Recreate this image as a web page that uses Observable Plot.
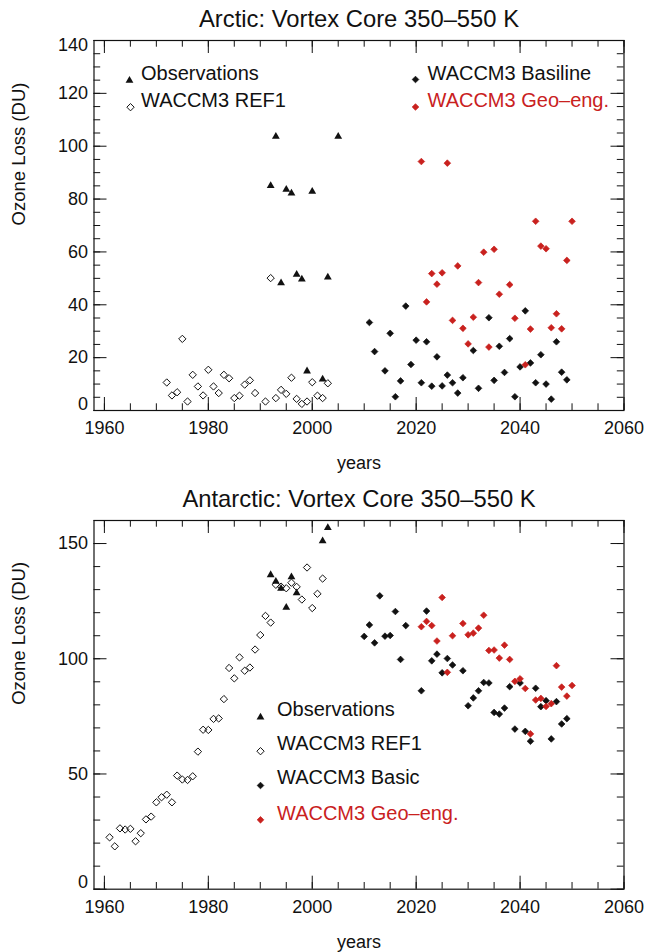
<!DOCTYPE html>
<html>
<head>
<meta charset="utf-8">
<script src="https://cdn.jsdelivr.net/npm/d3@7"></script>
<script src="https://cdn.jsdelivr.net/npm/@observablehq/plot@0.6"></script>
<style>
  body { margin: 0; background: #fff; }
  #chart svg { display: block; }
</style>
</head>
<body>
<div id="chart"></div>
<script>
// ---- Arctic vortex core ozone loss (DU) ----
const arcticObsYears = [1992, 1993, 1994, 1995, 1996, 1997, 1998, 1999, 2000, 2002, 2003, 2005];
const arcticObsLoss  = [85.0, 103.7, 48.2, 83.6, 82.2, 51.5, 49.7, 14.9, 82.9, 11.8, 50.4, 103.7];

const arcticRefYears = [1972, 1973, 1974, 1975, 1976, 1977, 1978, 1979, 1980, 1981, 1982, 1983, 1984, 1985, 1986, 1987,
                        1988, 1989, 1991, 1992, 1993, 1994, 1995, 1996, 1997, 1998, 1999, 2000, 2001, 2002, 2003];
const arcticRefLoss  = [10.6, 5.7, 6.9, 27.1, 3.4, 13.5, 9.1, 5.7, 15.4, 9.1, 6.6, 13.5, 12.2, 4.7, 5.6, 9.8,
                        11.4, 6.6, 3.4, 50.1, 4.7, 7.8, 6.3, 12.4, 4.4, 2.5, 3.4, 10.7, 5.6, 4.7, 10.3];

const arcticBaseYears = [2011, 2012, 2014, 2015, 2016, 2017, 2018, 2019, 2020, 2021, 2022, 2023, 2024, 2025, 2026, 2027, 2028, 2029,
                         2031, 2032, 2034, 2035, 2036, 2037, 2038, 2039, 2040, 2041, 2042, 2043, 2044, 2045, 2046, 2047, 2048, 2049];
const arcticBaseLoss  = [33.3, 22.3, 15.0, 29.2, 5.2, 11.2, 39.5, 17.4, 26.6, 10.5, 26.0, 9.2, 20.3, 9.3, 13.4, 10.5, 6.6, 12.4,
                         22.7, 8.4, 35.1, 11.4, 24.3, 14.4, 27.2, 5.2, 16.5, 37.7, 18.0, 10.5, 21.1, 10.0, 4.3, 26.0, 14.5, 11.6];

const arcticGeoYears = [2021, 2022, 2023, 2024, 2025, 2026, 2027, 2028, 2029, 2030, 2031, 2032, 2033, 2034, 2035, 2036, 2038, 2039,
                        2041, 2042, 2043, 2044, 2045, 2046, 2047, 2048, 2049, 2050];
const arcticGeoLoss  = [94.2, 41.1, 51.8, 47.8, 52.1, 93.6, 34.1, 54.7, 31.1, 25.2, 35.3, 48.4, 59.9, 24.0, 61.0, 44.0, 47.6, 34.9,
                        17.3, 30.8, 71.6, 62.2, 61.2, 31.3, 36.6, 30.9, 56.8, 71.6];

// ---- Antarctic vortex core ozone loss (DU) ----
const antarcticObsYears = [1992, 1993, 1994, 1995, 1996, 1997, 2002, 2003];
const antarcticObsLoss  = [136.4, 133.5, 130.5, 122.2, 135.5, 128.5, 151.1, 156.9];

const antarcticRefYears = [1961, 1962, 1963, 1964, 1965, 1966, 1967, 1968, 1969, 1970, 1971, 1972, 1973, 1974, 1975, 1976,
                           1977, 1978, 1979, 1980, 1981, 1982, 1983, 1984, 1985, 1986, 1987, 1988, 1989, 1990, 1991, 1992,
                           1993, 1994, 1995, 1996, 1997, 1998, 1999, 2000, 2001, 2002];
const antarcticRefLoss  = [22.5, 18.6, 26.4, 25.9, 26.2, 20.8, 24.3, 30.3, 31.5, 37.7, 39.9, 41.0, 37.7, 49.3, 47.6, 47.4,
                           49.0, 59.7, 69.2, 69.1, 73.9, 74.1, 82.5, 96.0, 91.5, 100.6, 94.8, 96.2, 104.0, 110.3, 118.6, 115.7,
                           132.1, 131.3, 130.6, 133.0, 131.2, 125.7, 139.6, 122.0, 128.2, 134.8];

const antarcticBaseYears = [2010, 2011, 2012, 2013, 2014, 2015, 2016, 2017, 2018, 2021, 2022, 2023, 2024, 2025, 2026, 2027, 2029,
                            2030, 2031, 2032, 2033, 2034, 2035, 2036, 2037, 2038, 2039, 2040, 2041, 2042, 2043, 2044, 2045,
                            2046, 2047, 2048, 2049];
const antarcticBaseLoss  = [109.7, 114.7, 106.9, 127.3, 109.8, 110.1, 120.5, 99.7, 114.4, 86.1, 120.7, 99.1, 102.0, 93.9, 100.1, 97.3, 94.8,
                            79.6, 83.0, 86.1, 89.7, 89.5, 76.7, 76.0, 78.6, 87.9, 69.5, 89.5, 68.5, 64.2, 87.2, 79.2, 81.8,
                            65.2, 81.4, 71.7, 74.0];

const antarcticGeoYears = [2021, 2022, 2023, 2024, 2025, 2026, 2027, 2029, 2030, 2031, 2032, 2033, 2034, 2035, 2036, 2037, 2038,
                           2039, 2040, 2041, 2042, 2043, 2044, 2045, 2046, 2047, 2048, 2049, 2050];
const antarcticGeoLoss  = [113.9, 116.2, 114.4, 107.7, 126.6, 94.1, 110.0, 115.3, 110.4, 111.1, 113.3, 118.9, 103.6, 103.8, 100.3, 105.9, 99.7,
                           90.2, 91.3, 87.1, 67.4, 82.1, 82.8, 79.3, 80.5, 97.0, 87.7, 83.8, 88.4];

// ---- Axis ticks ----
const xMajorTicks = [1960, 1980, 2000, 2020, 2040, 2060];
const xMinorTicks = d3.range(1960, 2061, 5);
const arcticYMajor = [0, 20, 40, 60, 80, 100, 120, 140];
const arcticYMinor = d3.range(0, 141, 5);
const antarcticYMajor = [0, 50, 100, 150];
const antarcticYMinor = d3.range(0, 161, 10);

// ---- Text ----
const arcticTitle = "Arctic: Vortex Core 350\u2013550 K";
const antarcticTitle = "Antarctic: Vortex Core 350\u2013550 K";
const xLabel = "years";
const yLabel = "Ozone Loss (DU)";
const arcticLegendNames = ["Observations", "WACCM3 REF1", "WACCM3 Basiline", "WACCM3 Geo\u2013eng."];
const antarcticLegendNames = ["Observations", "WACCM3 REF1", "WACCM3 Basic", "WACCM3 Geo\u2013eng."];

// ---- Styling ----
const FONT = "'Liberation Sans', Arial, Helvetica, sans-serif";
const RED = "#c9211e";
const INK = "#111";
const W = 647;
const MARGIN_LEFT = 93.5, MARGIN_RIGHT = 23.5;
const FRAME_W = W - MARGIN_LEFT - MARGIN_RIGHT;
const MAJOR = 13, MINOR = 6.7;

const styles = {
  obs:  {symbol: "triangle", r: 2.9, fill: INK, stroke: "none"},
  ref:  {symbol: "diamond2", r: 3.3, fill: "none", stroke: INK, strokeWidth: 1},
  base: {symbol: "diamond2", r: 3.0, fill: INK, stroke: INK, strokeWidth: 0.7},
  geo:  {symbol: "diamond2", r: 3.0, fill: RED, stroke: RED, strokeWidth: 0.7}
};

function rows(years, values) {
  return years.map((year, i) => ({year, loss: values[i]}));
}

function ticks(frameH, xMajor, xMinor, yMajor, yMinor) {
  const s = {stroke: INK, strokeWidth: 1};
  return [
    Plot.ruleX(xMinor, {x: d => d, insetTop: frameH - MINOR, ...s}),
    Plot.ruleX(xMinor, {x: d => d, insetBottom: frameH - MINOR, ...s}),
    Plot.ruleX(xMajor, {x: d => d, insetTop: frameH - MAJOR, ...s}),
    Plot.ruleX(xMajor, {x: d => d, insetBottom: frameH - MAJOR, ...s}),
    Plot.ruleY(yMinor, {y: d => d, insetRight: FRAME_W - MINOR, ...s}),
    Plot.ruleY(yMinor, {y: d => d, insetLeft: FRAME_W - MINOR, ...s}),
    Plot.ruleY(yMajor, {y: d => d, insetRight: FRAME_W - MAJOR, ...s}),
    Plot.ruleY(yMajor, {y: d => d, insetLeft: FRAME_W - MAJOR, ...s})
  ];
}

function legendItem(style, name, color, symX, symY, textX, textY) {
  return [
    Plot.dot([name], {frameAnchor: "top-left", dx: symX, dy: symY, ...style}),
    Plot.text([name], {frameAnchor: "top-left", dx: textX, dy: textY, text: d => d,
      textAnchor: "start", lineAnchor: "middle", fontSize: 20, fill: color})
  ];
}

function panel(cfg) {
  const frameH = cfg.height - cfg.marginTop - cfg.marginBottom;
  const [y0, y1] = cfg.yDomain;
  const innerLabels = cfg.yMajor.filter(v => v !== y0 && v !== y1);
  const lowLabels = cfg.yMajor.filter(v => v === y0);
  const highLabels = cfg.yMajor.filter(v => v === y1);
  const tickText = {fontSize: 18, fill: INK};
  const s = cfg.series;
  return Plot.plot({
    width: W,
    height: cfg.height,
    marginLeft: MARGIN_LEFT,
    marginRight: MARGIN_RIGHT,
    marginTop: cfg.marginTop,
    marginBottom: cfg.marginBottom,
    style: {fontFamily: FONT, background: "#fff", color: INK},
    x: {domain: [1958, 2060], axis: null},
    y: {domain: cfg.yDomain, axis: null},
    marks: [
      // data
      Plot.dot(rows(s.ref[0], s.ref[1]), {x: "year", y: "loss", ...styles.ref}),
      Plot.dot(rows(s.base[0], s.base[1]), {x: "year", y: "loss", ...styles.base}),
      Plot.dot(rows(s.geo[0], s.geo[1]), {x: "year", y: "loss", ...styles.geo}),
      Plot.dot(rows(s.obs[0], s.obs[1]), {x: "year", y: "loss", ...styles.obs}),
      // frame and inward ticks
      Plot.frame({stroke: INK, strokeWidth: 1.2}),
      ...ticks(frameH, xMajorTicks, xMinorTicks, cfg.yMajor, cfg.yMinor),
      // tick labels
      Plot.text(xMajorTicks, {x: d => d, frameAnchor: "bottom", dy: 18, text: d => String(d), lineAnchor: "middle", ...tickText}),
      Plot.text(innerLabels, {y: d => d, frameAnchor: "left", dx: -6, text: d => String(d), textAnchor: "end", ...tickText}),
      Plot.text(lowLabels, {y: d => d, frameAnchor: "left", dx: -6, dy: -6.5, text: d => String(d), textAnchor: "end", ...tickText}),
      Plot.text(highLabels, {y: d => d, frameAnchor: "left", dx: -6, dy: 5, text: d => String(d), textAnchor: "end", ...tickText}),
      // titles
      Plot.text([cfg.title], {frameAnchor: "top", dy: -21, text: d => d, fontSize: 23.8, lineAnchor: "middle", fill: INK}),
      Plot.text([xLabel], {frameAnchor: "bottom", dy: 53, text: d => d, fontSize: 18, lineAnchor: "middle", fill: INK}),
      Plot.text([yLabel], {frameAnchor: "left", dx: -74.5, text: d => d, fontSize: 18.5, rotate: -90, lineAnchor: "middle", fill: INK}),
      // legend
      ...cfg.legend.flatMap(l => legendItem(l.style, l.name, l.color, l.sx, l.sy, l.tx, l.ty))
    ]
  });
}

const chart = document.getElementById("chart");

chart.append(panel({
  title: arcticTitle,
  height: 476, marginTop: 40, marginBottom: 66,
  yDomain: [0, 140], yMajor: arcticYMajor, yMinor: arcticYMinor,
  series: {
    obs: [arcticObsYears, arcticObsLoss],
    ref: [arcticRefYears, arcticRefLoss],
    base: [arcticBaseYears, arcticBaseLoss],
    geo: [arcticGeoYears, arcticGeoLoss]
  },
  legend: [
    {style: styles.obs,  name: arcticLegendNames[0], color: INK, sx: 35.5,  sy: 40,   tx: 47,    ty: 33.3},
    {style: styles.ref,  name: arcticLegendNames[1], color: INK, sx: 36.5,  sy: 66.7, tx: 47,    ty: 60},
    {style: styles.base, name: arcticLegendNames[2], color: INK, sx: 321.5, sy: 39,   tx: 333.5, ty: 33.3},
    {style: styles.geo,  name: arcticLegendNames[3], color: RED, sx: 321.5, sy: 66.5, tx: 333.5, ty: 60.5}
  ]
}));

chart.append(panel({
  title: antarcticTitle,
  height: 476, marginTop: 44, marginBottom: 63.3,
  yDomain: [0, 160], yMajor: antarcticYMajor, yMinor: antarcticYMinor,
  series: {
    obs: [antarcticObsYears, antarcticObsLoss],
    ref: [antarcticRefYears, antarcticRefLoss],
    base: [antarcticBaseYears, antarcticBaseLoss],
    geo: [antarcticGeoYears, antarcticGeoLoss]
  },
  legend: [
    {style: styles.obs,  name: antarcticLegendNames[0], color: INK, sx: 166.5, sy: 196.7, tx: 183, ty: 189.3},
    {style: styles.ref,  name: antarcticLegendNames[1], color: INK, sx: 166.5, sy: 230.7, tx: 183, ty: 222.7},
    {style: styles.base, name: antarcticLegendNames[2], color: INK, sx: 166.5, sy: 265,   tx: 183, ty: 257},
    {style: styles.geo,  name: antarcticLegendNames[3], color: RED, sx: 166.5, sy: 299.3, tx: 183, ty: 292.7}
  ]
}));
</script>
</body>
</html>
